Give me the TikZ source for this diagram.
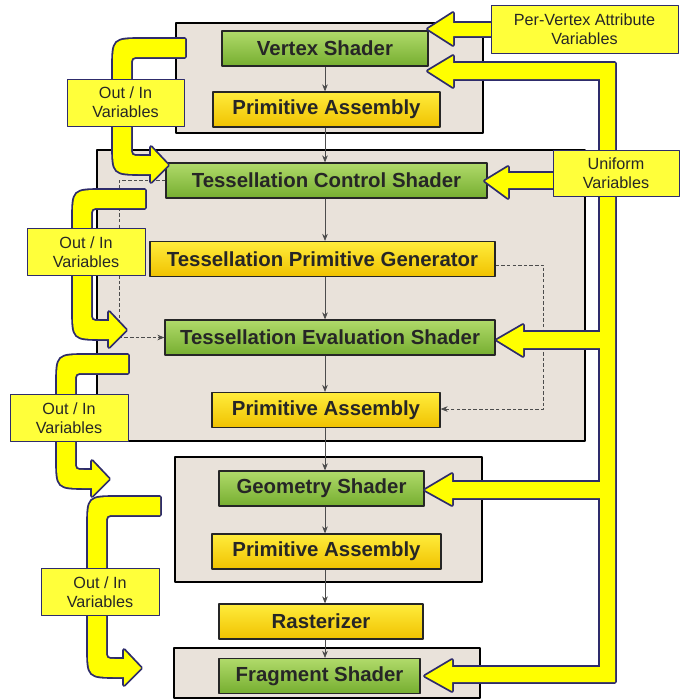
\documentclass[tikz,border=0pt]{standalone}
\usepackage{fontspec}
\setmainfont{Liberation Sans}
\usetikzlibrary{arrows.meta}
\definecolor{panelbg}{HTML}{E9E2DA}
\definecolor{grnT}{HTML}{B0DA6A}
\definecolor{grnB}{HTML}{76AE30}
\definecolor{ylwT}{HTML}{FFEC3C}
\definecolor{ylwB}{HTML}{F0C200}
\definecolor{band}{HTML}{FFFF00}
\definecolor{navy}{HTML}{2E2C6B}
\definecolor{tagbg}{HTML}{FFFF3A}
\newcommand{\pxu}{0.025cm}
% curved out/in band: style, right x, top y, outer left x, bottom y, head base x
\newcommand{\outinband}[6]{%
  \path[#1] (#2,#3) -- (#4+30,#3) .. controls (#4,#3) .. (#4,#3+30)
    -- (#4,#5-30) .. controls (#4,#5) .. (#4+30,#5) -- (#6,#5) -- (#6,#5+8)
    -- (#6+17,#5-9) -- (#6,#5-27) -- (#6,#5-18) -- (#4+28,#5-18)
    .. controls (#4+18,#5-18) .. (#4+18,#5-28) -- (#4+18,#3+28)
    .. controls (#4+18,#3+18) .. (#4+28,#3+18) -- (#2,#3+18) -- cycle;}

\begin{document}
\begin{tikzpicture}[x=0.025cm, y=-0.025cm, line join=round, >={Stealth[length=5pt,width=4pt]},
  stage/.style={draw=black!85, line width=0.9pt, minimum height=35*\pxu, inner sep=0pt,
    font=\bfseries\fontsize{14.5}{16}\selectfont, text=black!85},
  shader/.style={stage, top color=grnT, bottom color=grnB},
  fixed/.style={stage, top color=ylwT, bottom color=ylwB},
  tag/.style={draw=navy, line width=0.6pt, fill=tagbg, align=center, inner sep=0pt,
    minimum height=47*\pxu, font=\fontsize{11.5}{13.5}\selectfont, text=black!85},
  panel/.style={fill=panelbg, draw=black, line width=1.3pt},
  bandline/.style={draw=navy, line width=2.6pt},
  bandfill/.style={fill=band},
  link/.style={->, draw=black!70, line width=0.5pt},
  dlink/.style={link, dash pattern=on 2.5pt off 1.5pt}]
\useasboundingbox (0,0) rectangle (681,700);

\draw[panel] (176,23) rectangle (483,133);
\draw[panel] (97,150) rectangle (585,441);
\draw[panel] (175,457) rectangle (482,582);
\draw[panel] (174,648) rectangle (480,698);

\coordinate (ax) at (325,0);

\node[shader, minimum width=206*\pxu] (vs) at (325,48.5) {Vertex Shader};
\node[fixed, minimum width=227*\pxu] (pa1) at (326.5,109.5) {Primitive Assembly};
\node[shader, minimum width=321*\pxu] (tcs) at (326.5,180.5) {Tessellation Control Shader};
\node[fixed, minimum width=345*\pxu] (tpg) at (322.5,259) {Tessellation Primitive Generator};
\node[shader, minimum width=330*\pxu] (tes) at (330,337.5) {Tessellation Evaluation Shader};
\node[fixed, minimum width=228*\pxu] (pa2) at (326,410) {Primitive Assembly};
\node[shader, minimum width=205*\pxu] (gs) at (321.5,488.5) {Geometry Shader};
\node[fixed, minimum width=229*\pxu] (pa3) at (326.5,551.5) {Primitive Assembly};
\node[fixed, minimum width=204*\pxu] (ras) at (321,621.5) {Rasterizer};
\node[shader, minimum width=201*\pxu] (fs) at (319.5,676) {Fragment Shader};

\foreach \a/\b in {vs/pa1, pa1/tcs, tcs/tpg, tpg/tes, tes/pa2, pa2/gs, gs/pa3, pa3/ras, ras/fs}
  \draw[link] (\a.south -| ax) -- (\b.north -| ax);

\draw[dlink] (tcs.west) -- ++(-46,0) |- (tes.west);
\draw[dlink] ([yshift=-6*\pxu]tpg.east) -- ++(48,0) |- ([yshift=1*\pxu]pa2.east);

% uniform and attribute arrows
\foreach \sty in {bandline, bandfill} {
  \path[\sty] (428,71) -- (453,56) -- (453,63) -- (615,63) -- (615,682) -- (452,682)
    -- (452,691) -- (425,676) -- (452,660) -- (452,667) -- (600,667) -- (600,79)
    -- (453,79) -- (453,87) -- cycle
    (485,181) -- (508,167) -- (508,173) -- (607,173) -- (607,188) -- (508,188) -- (508,198) -- cycle
    (497,340) -- (523,325) -- (523,332) -- (607,332) -- (607,348) -- (523,348) -- (523,356) -- cycle
    (425,490) -- (452,474) -- (452,482) -- (607,482) -- (607,498) -- (452,498) -- (452,505) -- cycle
    (428,29) -- (453,13) -- (453,23) -- (500,23) -- (500,36) -- (453,36) -- (453,45) -- cycle;
  \foreach \r/\t/\l/\b/\h in {185/39/113/174/151, 145/190/73/339/109,
                               128/355/57/488/92, 160/497/88/677/124}
    {\outinband{\sty}{\r}{\t}{\l}{\b}{\h}}
}

\node[tag, minimum width=187*\pxu, minimum height=48*\pxu] (pva) at (584.5,29.5) {Per-Vertex Attribute\\Variables};
\node[tag, minimum width=126*\pxu, minimum height=46*\pxu] (uni) at (616,173) {Uniform\\Variables};
\node[tag, minimum width=117*\pxu] (oi1) at (125.5,102.5) {Out / In\\Variables};
\node[tag, minimum width=118*\pxu] (oi2) at (86,252) {Out / In\\Variables};
\node[tag, minimum width=118*\pxu] (oi3) at (69,418) {Out / In\\Variables};
\node[tag, minimum width=118*\pxu] (oi4) at (100,592) {Out / In\\Variables};
\end{tikzpicture}
\end{document}
